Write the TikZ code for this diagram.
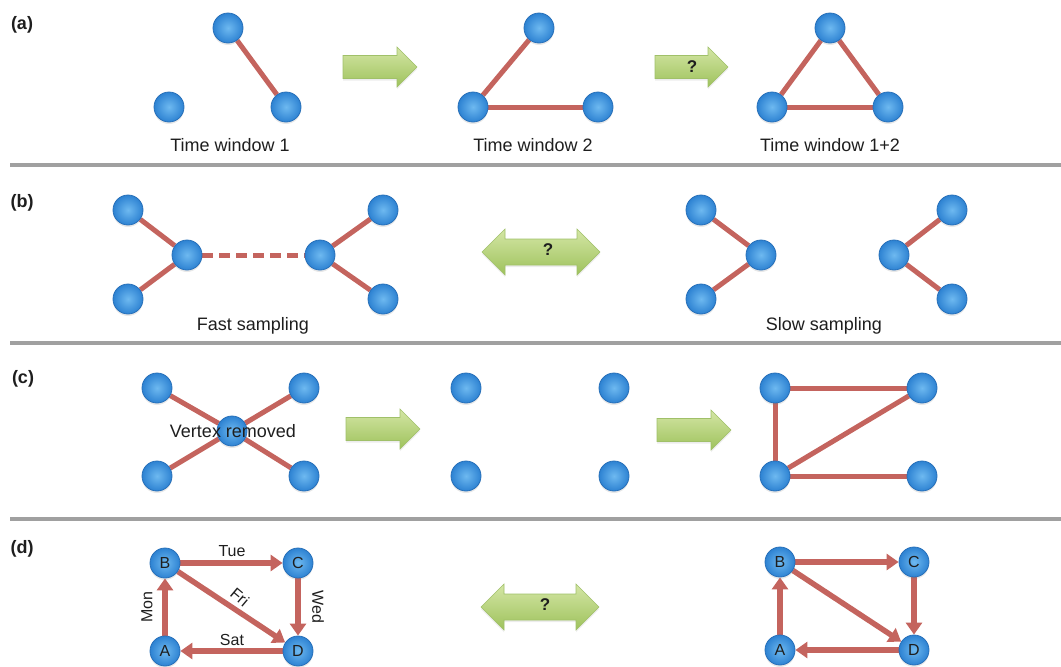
\documentclass[tikz,border=0pt]{standalone}
\usepackage{fontspec}
\setmainfont{Liberation Sans}
\usetikzlibrary{arrows.meta,backgrounds,shadows}
\definecolor{edgec}{RGB}{196,100,94}
\definecolor{nodein}{RGB}{110,185,240}
\definecolor{nodeout}{RGB}{45,130,210}
\definecolor{nodeline}{RGB}{40,112,185}
\definecolor{arrtop}{RGB}{212,230,165}
\definecolor{arrbot}{RGB}{158,194,92}
\definecolor{arrline}{RGB}{160,192,105}
\definecolor{sepc}{RGB}{160,160,160}
\definecolor{txt}{RGB}{30,30,30}
\newcommand\rightfat[3]{%
  \path[fatarrow] ({#1},{#3-11.5}) -- ({#2-20},{#3-11.5}) -- ({#2-20},{#3-20}) -- ({#2},{#3})
  -- ({#2-20},{#3+20}) -- ({#2-20},{#3+11.5}) -- ({#1},{#3+11.5}) -- cycle;}
\newcommand\bothfat[3]{%
  \path[fatarrow] ({#1},{#3}) -- ({#1+23},{#3-23}) -- ({#1+23},{#3-13}) -- ({#2-23},{#3-13})
  -- ({#2-23},{#3-23}) -- ({#2},{#3}) -- ({#2-23},{#3+23}) -- ({#2-23},{#3+13})
  -- ({#1+23},{#3+13}) -- ({#1+23},{#3+23}) -- cycle;}
\begin{document}
\begin{tikzpicture}[x=1pt,y=-1pt,
  vtx/.style={circle,minimum size=30pt,inner sep=0pt,draw=nodeline,line width=0.8pt,
    inner color=nodein,outer color=nodeout,
    drop shadow={opacity=.18,shadow xshift=0pt,shadow yshift=-2pt}},
  svtx/.style={vtx,minimum size=30pt,font=\fontsize{16}{18}\selectfont,text=txt},
  edge/.style={draw=edgec,line width=5pt},
  dedge/.style={draw=edgec,line width=5pt,dash pattern=on 11pt off 6pt},
  aedge/.style={draw=edgec,line width=5.5pt,-{Triangle[length=12pt,width=16pt]}},
  fatarrow/.style={top color=arrtop,bottom color=arrbot,draw=arrline,line width=0.6pt,
    drop shadow={opacity=.15,shadow xshift=0pt,shadow yshift=-2pt}},
  captxt/.style={font=\fontsize{18}{21}\selectfont,text=txt},
  plabel/.style={font=\fontsize{18}{21}\selectfont\bfseries,text=txt},
  qmark/.style={font=\fontsize{17}{20}\selectfont\bfseries,text=txt},
  dlabel/.style={font=\fontsize{16}{18}\selectfont,text=txt,inner sep=1pt},
  sepline/.style={draw=sepc,line width=4pt}]
\useasboundingbox (0,0) rectangle (1061,667);

% separators
\draw[sepline] (10,165) -- (1061,165);
\draw[sepline] (10,343) -- (1061,343);
\draw[sepline] (10,519) -- (1061,519);

% panel labels
\node[plabel] (la) at (22,25) {(a)};
\node[plabel] (lb) at (22,203) {(b)};
\node[plabel] (lc) at (23,379) {(c)};
\node[plabel] (ld) at (22,549) {(d)};

% ---------- (a)
\node[vtx] (a1t) at (228,28) {};
\node[vtx] (a1l) at (169,107) {};
\node[vtx] (a1r) at (286,107) {};
\node[vtx] (a2t) at (539,28) {};
\node[vtx] (a2l) at (473,107) {};
\node[vtx] (a2r) at (598,107) {};
\node[vtx] (a3t) at (830,28) {};
\node[vtx] (a3l) at (772,107) {};
\node[vtx] (a3r) at (888,107) {};
\begin{pgfonlayer}{background}
\draw[edge] (a1t) -- (a1r);
\draw[edge] (a2t) -- (a2l);
\draw[edge] (a2l) -- (a2r);
\draw[edge] (a3t) -- (a3l);
\draw[edge] (a3t) -- (a3r);
\draw[edge] (a3l) -- (a3r);
\end{pgfonlayer}
\rightfat{343}{417}{67}
\rightfat{655}{728}{67}
\node[qmark] (qa) at (692,67) {?};
\node[captxt] (ta1) at (230,145) {Time window 1};
\node[captxt] (ta2) at (533,145) {Time window 2};
\node[captxt] (ta3) at (830,145) {Time window 1+2};

% ---------- (b)
\node[vtx] (bTL) at (128,210) {};
\node[vtx] (bBL) at (128,299) {};
\node[vtx] (bCL) at (187,255) {};
\node[vtx] (bCR) at (320,255) {};
\node[vtx] (bTR) at (383,210) {};
\node[vtx] (bBR) at (383,299) {};
\node[vtx] (sTL) at (701,210) {};
\node[vtx] (sBL) at (701,299) {};
\node[vtx] (sCL) at (761,255) {};
\node[vtx] (sCR) at (894,255) {};
\node[vtx] (sTR) at (952,210) {};
\node[vtx] (sBR) at (952,299) {};
\begin{pgfonlayer}{background}
\draw[edge] (bTL) -- (bCL);
\draw[edge] (bBL) -- (bCL);
\draw[edge] (bCR) -- (bTR);
\draw[edge] (bCR) -- (bBR);
\draw[dedge] (bCL) -- (bCR);
\draw[edge] (sTL) -- (sCL);
\draw[edge] (sBL) -- (sCL);
\draw[edge] (sCR) -- (sTR);
\draw[edge] (sCR) -- (sBR);
\end{pgfonlayer}
\bothfat{482}{600}{252}
\node[qmark] (qb) at (548,250) {?};
\node[captxt] (tb1) at (253,326) {Fast sampling};
\node[captxt] (tb2) at (824,326) {Slow sampling};

% ---------- (c)
\node[vtx] (cTL) at (157,388) {};
\node[vtx] (cTR) at (304,388) {};
\node[vtx] (cC)  at (232,431) {};
\node[vtx] (cBL) at (157,476) {};
\node[vtx] (cBR) at (304,476) {};
\node[vtx] (mTL) at (466,388) {};
\node[vtx] (mTR) at (614,388) {};
\node[vtx] (mBL) at (466,476) {};
\node[vtx] (mBR) at (614,476) {};
\node[vtx] (rTL) at (775,388) {};
\node[vtx] (rTR) at (922,388) {};
\node[vtx] (rBL) at (775,476) {};
\node[vtx] (rBR) at (922,476) {};
\begin{pgfonlayer}{background}
\draw[edge] (cTL) -- (cC);
\draw[edge] (cTR) -- (cC);
\draw[edge] (cBL) -- (cC);
\draw[edge] (cBR) -- (cC);
\draw[edge] (rTL) -- (rTR);
\draw[edge] (rTL) -- (rBL);
\draw[edge] (rBL) -- (rTR);
\draw[edge] (rBL) -- (rBR);
\end{pgfonlayer}
\node[captxt] (vr) at (233,431) {Vertex removed};
\rightfat{346}{420}{429}
\rightfat{657}{731}{430}

% ---------- (d)
\node[svtx] (dB) at (165,563) {B};
\node[svtx] (dC) at (298,563) {C};
\node[svtx] (dA) at (165,651) {A};
\node[svtx] (dD) at (298,651) {D};
\begin{pgfonlayer}{background}
\draw[aedge] (dA) -- (dB);
\draw[aedge] (dB) -- (dC);
\draw[aedge] (dC) -- (dD);
\draw[aedge] (dB) -- (dD);
\draw[aedge] (dD) -- (dA);
\end{pgfonlayer}
\node[dlabel] (lTue) at (232,551) {Tue};
\node[dlabel,rotate=90] (lMon) at (147,607) {Mon};
\node[dlabel,rotate=-90] (lWed) at (318,607) {Wed};
\node[dlabel,rotate=-40] (lFri) at (240,597) {Fri};
\node[dlabel] (lSat) at (232,640) {Sat};

\node[svtx] (eB) at (780,562) {B};
\node[svtx] (eC) at (914,562) {C};
\node[svtx] (eA) at (780,650) {A};
\node[svtx] (eD) at (914,650) {D};
\begin{pgfonlayer}{background}
\draw[aedge] (eA) -- (eB);
\draw[aedge] (eB) -- (eC);
\draw[aedge] (eC) -- (eD);
\draw[aedge] (eB) -- (eD);
\draw[aedge] (eD) -- (eA);
\end{pgfonlayer}
\bothfat{481}{599}{607}
\node[qmark] (qd) at (545,605) {?};
\end{tikzpicture}
\end{document}
